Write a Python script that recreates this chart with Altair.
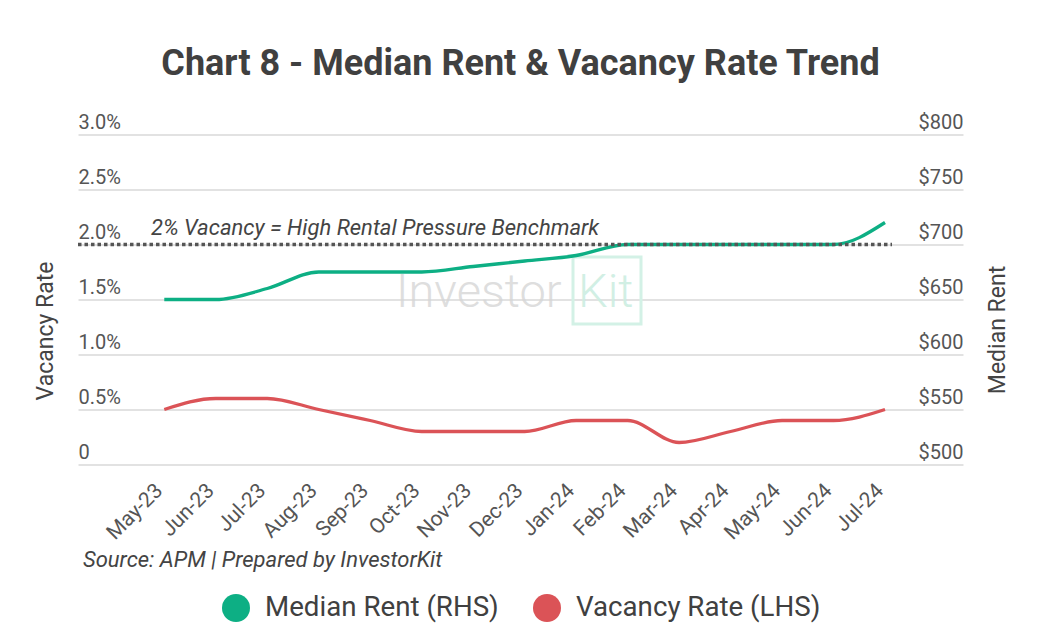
import json
import altair as alt
import pandas as pd

months = ["May-23", "Jun-23", "Jul-23", "Aug-23", "Sep-23", "Oct-23", "Nov-23", "Dec-23",
          "Jan-24", "Feb-24", "Mar-24", "Apr-24", "May-24", "Jun-24", "Jul-24"]
vacancy_rate = [0.5, 0.6, 0.6, 0.5, 0.4, 0.3, 0.3, 0.3, 0.4, 0.4, 0.2, 0.3, 0.4, 0.4, 0.5]
median_rent = [650, 650, 660, 675, 675, 675, 680, 685, 690, 700, 700, 700, 700, 700, 720]
series_names = ["Median Rent (RHS)", "Vacancy Rate (LHS)"]
series_colors = ["#0DAF84", "#DB5357"]
vac_ticks = [0, 0.5, 1.0, 1.5, 2.0, 2.5, 3.0]
rent_ticks = [500, 550, 600, 650, 700, 750, 800]
benchmark = [2.0]
benchmark_label = "2% Vacancy = High Rental Pressure Benchmark"
source_text = "Source: APM | Prepared by InvestorKit"
title_text = "Chart 8 - Median Rent & Vacancy Rate Trend"

FONT = "Roboto"
W, H = 885, 330

idx = list(range(len(months)))
vac_df = pd.DataFrame({"i": idx, "month": months, "value": vacancy_rate, "series": series_names[1]})
rent_df = pd.DataFrame({"i": idx, "month": months, "value": median_rent, "series": series_names[0]})
bench_df = pd.DataFrame({"value": benchmark, "label": [benchmark_label]})
wm_df = pd.DataFrame({"a": ["Investor"], "b": ["Kit"]})

month_js = json.dumps(months)
x_enc = alt.X(
    "i:Q",
    scale=alt.Scale(domain=[-1.676, len(months) - 1 + 1.515], nice=False, zero=False),
    axis=alt.Axis(title=None, values=idx, labelExpr=f"{month_js}[datum.value]",
                  labelAngle=-45, labelFontSize=21, labelColor="#555555",
                  labelFont=FONT, domain=False, ticks=False, labelPadding=15,
                  labelOffset=-13, grid=False,
                  labelFlush=False, labelOverlap=False, labelBound=False),
)
color_scale = alt.Scale(domain=series_names, range=series_colors)
vac_scale = alt.Scale(domain=[0, 3.0], nice=False, zero=True)
rent_scale = alt.Scale(domain=[500, 800], nice=False, zero=False)

vac_axis = alt.Axis(
    title="Vacancy Rate", values=vac_ticks, orient="left",
    labelExpr="datum.value == 0 ? '0' : format(datum.value, '.1f') + '%'",
    labelAlign="left", labelBaseline="alphabetic", labelOffset=-6, labelPadding=0,
    labelFontSize=20, labelColor="#555555", labelFont=FONT,
    ticks=False, domain=False, grid=True, gridColor="#d9d9d9", gridWidth=1.5,
    titleFontSize=23, titleColor="#444444", titleFont=FONT, titleFontWeight="normal",
    titleAngle=270, titleX=-33, titleY=H / 2 + 31, titleAlign="center", titleBaseline="middle",
)
rent_axis = alt.Axis(
    title="Median Rent", values=rent_ticks, orient="right",
    labelExpr="'$' + format(datum.value, 'd')",
    labelAlign="right", labelBaseline="alphabetic", labelOffset=-6, labelPadding=0,
    labelFontSize=20, labelColor="#555555", labelFont=FONT,
    ticks=False, domain=False, grid=False,
    titleFontSize=23, titleColor="#444444", titleFont=FONT, titleFontWeight="normal",
    titleAngle=270, titleX=34, titleY=H / 2 + 30, titleAlign="center", titleBaseline="middle",
)

wm1 = alt.Chart(wm_df).mark_text(
    align="left", baseline="alphabetic", fontSize=47, font=FONT, fontWeight=300,
    color="#d6d6d6", opacity=0.8
).encode(x=alt.value(318), y=alt.value(172.5), text="a:N")
wm2 = alt.Chart(wm_df).mark_text(
    align="left", baseline="alphabetic", fontSize=47, font=FONT, fontWeight=300,
    color="#cdeee2", opacity=0.9
).encode(x=alt.value(500), y=alt.value(172.5), text="b:N")
wm_box = alt.Chart(wm_df).mark_rect(
    fillOpacity=0, stroke="#d3f1e6", strokeWidth=3
).encode(x=alt.value(495), x2=alt.value(563), y=alt.value(122.5), y2=alt.value(189.5))

vac_line = alt.Chart(vac_df).mark_line(
    interpolate="monotone", strokeWidth=3.3, color=series_colors[1]
).encode(
    x=x_enc,
    y=alt.Y("value:Q", scale=vac_scale, axis=vac_axis),
)
rent_line = alt.Chart(rent_df).mark_line(
    interpolate="monotone", strokeWidth=3.3, color=series_colors[0]
).encode(
    x=x_enc,
    y=alt.Y("value:Q", scale=rent_scale, axis=rent_axis),
)
bench_rule = alt.Chart(bench_df).mark_rule(
    color="#555555", strokeWidth=3.5, strokeDash=[3.5, 3]
).encode(
    y=alt.Y("value:Q", scale=vac_scale, axis=None),
    x=alt.value(0), x2=alt.value(814),
)
bench_text = alt.Chart(bench_df).mark_text(
    align="left", baseline="alphabetic", dy=-10, fontSize=22, fontStyle="italic",
    font=FONT, color="#444444"
).encode(
    y=alt.Y("value:Q", scale=vac_scale, axis=None),
    x=alt.value(73),
    text="label:N",
)
legend_pts = alt.Chart(rent_df).mark_circle(opacity=0).encode(
    x=x_enc,
    y=alt.Y("value:Q", scale=rent_scale, axis=None),
    color=alt.Color(
        "series:N", scale=color_scale,
        legend=alt.Legend(
            title=None, orient="none", direction="horizontal", legendX=144, legendY=459.5,
            symbolType="circle", symbolSize=784, symbolOpacity=1, symbolStrokeWidth=0,
            labelFontSize=27.7, labelColor="#404040", labelFont=FONT, labelOffset=15,
            columnPadding=34, labelLimit=500,
        ),
    ),
)
src = alt.Chart(wm_df).mark_text(
    align="left", baseline="alphabetic", fontSize=22, fontStyle="italic", font=FONT,
    color="#444444"
).encode(x=alt.value(5), y=alt.value(432.5), text=alt.value(source_text))

chart = alt.layer(
    wm1, wm2, wm_box, vac_line, rent_line, bench_rule, bench_text, legend_pts, src
).resolve_scale(
    y="independent"
).properties(
    width=W, height=H,
    title=alt.Title(title_text, fontSize=36, fontWeight="bold", color="#404040",
                    font=FONT, anchor="middle", offset=2, baseline="alphabetic"),
    autosize=alt.AutoSizeParams(type="none"),
    padding={"left": 70, "top": 126.5, "right": 69, "bottom": 170},
).configure_view(stroke=None)

chart.save("out.html", embed_options={"renderer": "svg", "actions": False})
